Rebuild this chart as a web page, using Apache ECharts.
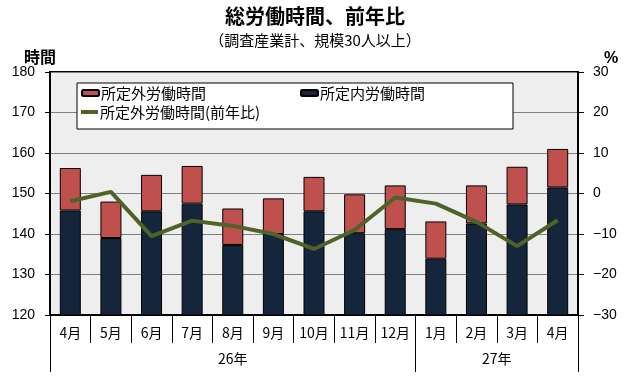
<!DOCTYPE html>
<html><head><meta charset="utf-8">
<script src="https://cdn.jsdelivr.net/npm/echarts@6/dist/echarts.min.js"></script>
<style>html,body{margin:0;padding:0;background:#fff}#c{width:630px;height:380px}</style>
</head><body><div id="c"></div>
<script>
const months = ['4月','5月','6月','7月','8月','9月','10月','11月','12月','1月','2月','3月','4月'];
const yearLabels = ['26年','27年'];
const yearLabelPos = [4.5, 11];
const yearBounds = [0, 9, 13];
const scheduled = [145.8,139.0,145.6,147.5,137.3,140.0,145.6,140.2,141.2,133.9,142.6,147.3,151.5];
const overtime = [10.5,9.0,9.0,9.3,9.0,8.8,8.5,9.6,10.8,9.2,9.4,9.3,9.5];
const overtimeYoY = [-1.9,0.4,-10.5,-6.7,-8.0,-10.0,-13.7,-9.0,-1.0,-2.5,-7.0,-13.0,-6.6];
const leftTicks = {min:120,max:180,interval:10};
const rightTicks = {min:-30,max:30,interval:10};

const JP = '"Noto Sans CJK JP", sans-serif';
const NUM = '"Liberation Sans", Arial, sans-serif';
const RED = '#c0504d', NAVY = '#14253c', OLIVE = '#4f6228';

const chart = echarts.init(document.getElementById('c'));
chart.setOption({
  backgroundColor: '#fff',
  animation: false,
  title: [
    {text:'総労働時間、前年比', left:'center', top:1, textStyle:{fontFamily:JP, fontSize:20, fontWeight:'bold', color:'#000'}},
    {text:'（調査産業計、規模30人以上）', left:'center', top:28, textStyle:{fontFamily:JP, fontSize:15, fontWeight:'normal', color:'#000'}},
    {text:'時間', left:19, top:44, textStyle:{fontFamily:JP, fontSize:16, fontWeight:'bold', color:'#000'}},
    {text:'%', left:599, top:46, textStyle:{fontFamily:NUM, fontSize:16, fontWeight:'bold', color:'#000'}}
  ],
  grid: {left:50, right:52, top:72, bottom:65, show:true, backgroundColor:'#efeeef', borderColor:'#000', borderWidth:2},
  graphic: [
    {type:'rect', z:3, shape:{x:77, y:83, width:436, height:46}, style:{fill:'#fff', stroke:'#000', lineWidth:1}}
  ],
  legend: [
    {data:['所定外労働時間'], left:81, top:85, padding:0, itemWidth:17, itemHeight:6, itemGap:0, z:5,
      textStyle:{fontFamily:JP, fontSize:15, color:'#000', lineHeight:16, padding:[0,0,0,-3]}},
    {data:['所定内労働時間'], left:300, top:85, padding:0, itemWidth:17, itemHeight:6, itemGap:0, z:5,
      textStyle:{fontFamily:JP, fontSize:15, color:'#000', lineHeight:16, padding:[0,0,0,-3]}},
    {data:[{name:'所定外労働時間(前年比)', icon:'rect'}], left:81, top:104, padding:0, itemWidth:17, itemHeight:4, itemGap:0, z:5,
      textStyle:{fontFamily:JP, fontSize:15, color:'#000', lineHeight:16, padding:[0,0,0,-3]}}
  ],
  xAxis: [
    {type:'category', data:months, position:'bottom', boundaryGap:true,
      axisLine:{show:true, onZero:false, lineStyle:{color:'#000', width:2}},
      axisTick:{show:true, interval:0, length:28, lineStyle:{color:'#000', width:1}},
      axisLabel:{interval:0, margin:11, fontFamily:JP, fontSize:14, color:'#000'}},
    {type:'value', min:0, max:13, position:'bottom', offset:0,
      axisLine:{show:false, onZero:false}, splitLine:{show:false},
      axisTick:{show:true, customValues:yearBounds, length:57, lineStyle:{color:'#000', width:1}},
      axisLabel:{show:true, customValues:yearLabelPos, margin:37, fontFamily:JP, fontSize:14, color:'#000',
        formatter:function(v){const i=yearLabelPos.indexOf(v);return i>=0?yearLabels[i]:'';}}}
  ],
  yAxis: [
    {type:'value', min:leftTicks.min, max:leftTicks.max, interval:leftTicks.interval, position:'left',
      axisLine:{show:true, onZero:false, lineStyle:{color:'#000', width:2}},
      axisTick:{show:true, inside:false, length:5, lineStyle:{color:'#000'}},
      axisLabel:{margin:15, fontFamily:NUM, fontSize:14, color:'#000'},
      splitLine:{show:true, lineStyle:{color:'#808080', width:1}}},
    {type:'value', min:rightTicks.min, max:rightTicks.max, interval:rightTicks.interval, position:'right',
      axisLine:{show:true, onZero:false, lineStyle:{color:'#000', width:2}},
      axisTick:{show:true, inside:false, length:6, lineStyle:{color:'#000'}},
      axisLabel:{margin:15, fontFamily:NUM, fontSize:14, color:'#000',
        formatter:function(v){return v<0?'\u2212'+(-v):String(v);}},
      splitLine:{show:false}}
  ],
  series: [
    {name:'所定内労働時間', type:'bar', stack:'h', xAxisIndex:0, yAxisIndex:0, data:scheduled, barWidth:21,
      itemStyle:{color:NAVY, borderColor:'#000', borderWidth:1}},
    {name:'所定外労働時間', type:'bar', stack:'h', xAxisIndex:0, yAxisIndex:0, data:overtime, barWidth:21,
      itemStyle:{color:RED, borderColor:'#000', borderWidth:1}},
    {name:'所定外労働時間(前年比)', type:'line', xAxisIndex:0, yAxisIndex:1, data:overtimeYoY, z:4,
      showSymbol:false, symbol:'none', lineStyle:{color:OLIVE, width:4}, itemStyle:{color:OLIVE}}
  ]
});
</script></body></html>
